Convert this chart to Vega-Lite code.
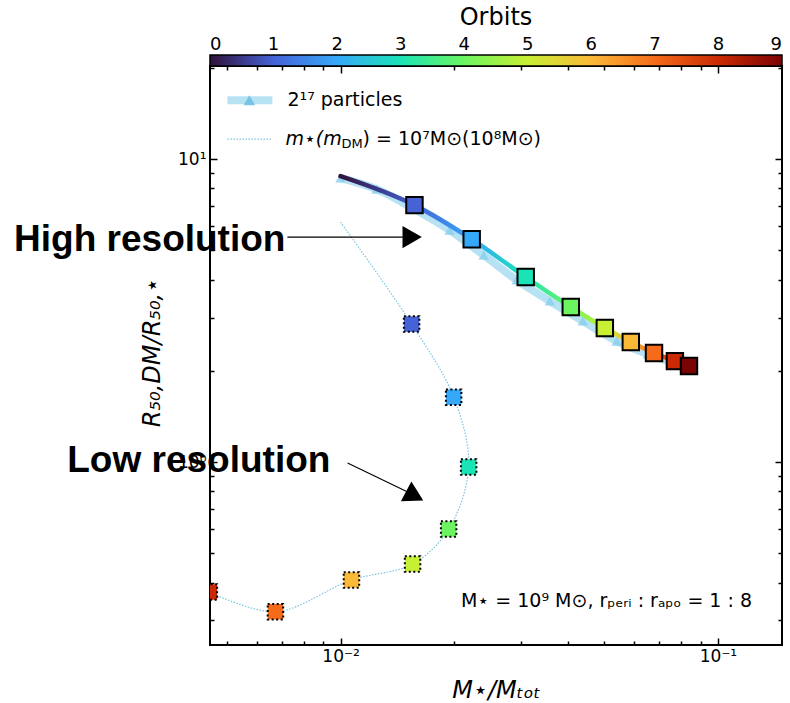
{
  "$schema": "https://vega.github.io/schema/vega-lite/v6.json",
  "width": 572,
  "height": 579,
  "autosize": {"type": "none"},
  "padding": {"left": 210, "top": 66, "right": 8, "bottom": 58},
  "background": "white",
  "config": {
    "font": "DejaVu Sans",
    "view": {"stroke": "black", "strokeWidth": 2},
    "axis": {"domain": false, "grid": false, "tickColor": "black", "tickWidth": 1.5, "labelColor": "black", "labelFontSize": 17, "titleColor": "black", "titleFontWeight": "normal", "labelFont": "DejaVu Sans", "titleFont": "DejaVu Sans"},
    "legend": {"labelFontSize": 18, "labelColor": "black", "labelFont": "DejaVu Sans", "titleFont": "DejaVu Sans"}
  },
  "datasets": {
    "hr_light": [
      {"x": 0.01, "y": 8.66},
      {"x": 0.01246, "y": 7.96},
      {"x": 0.01552, "y": 6.89},
      {"x": 0.01946, "y": 5.83},
      {"x": 0.02395, "y": 4.82},
      {"x": 0.0293, "y": 3.99},
      {"x": 0.03584, "y": 3.40},
      {"x": 0.04385, "y": 2.92},
      {"x": 0.05396, "y": 2.507},
      {"x": 0.06522, "y": 2.272},
      {"x": 0.07551, "y": 2.138},
      {"x": 0.0838, "y": 2.059}
    ],
    "hr": [
      {"orbit": 0, "x": 0.01, "y": 8.79},
      {"orbit": 1, "x": 0.0157, "y": 7.05},
      {"orbit": 2, "x": 0.02226, "y": 5.44},
      {"orbit": 3, "x": 0.03095, "y": 4.08},
      {"orbit": 4, "x": 0.04074, "y": 3.25},
      {"orbit": 5, "x": 0.05015, "y": 2.77},
      {"orbit": 6, "x": 0.05876, "y": 2.49},
      {"orbit": 7, "x": 0.0677, "y": 2.29},
      {"orbit": 8, "x": 0.0769, "y": 2.154},
      {"orbit": 9, "x": 0.0838, "y": 2.074}
    ],
    "lr": [
      {"orbit": 0, "x": 0.01, "y": 6.197},
      {"orbit": 1, "x": 0.01543, "y": 2.854},
      {"orbit": 2, "x": 0.01994, "y": 1.638},
      {"orbit": 3, "x": 0.02185, "y": 0.963},
      {"orbit": 4, "x": 0.01934, "y": 0.601},
      {"orbit": 5, "x": 0.01552, "y": 0.4607},
      {"orbit": 6, "x": 0.01069, "y": 0.408},
      {"orbit": 7, "x": 0.006723, "y": 0.3206},
      {"orbit": 8, "x": 0.004493, "y": 0.3724}
    ],
    "key_lines": [
      {"item": "hi", "x": 0.005016, "x2": 0.006598, "y": 15.65},
      {"item": "lo", "x": 0.005016, "x2": 0.006598, "y": 11.64}
    ],
    "key_marker": [{"x": 0.005735, "y": 15.65}],
    "key_text": [
      {"text": "2¹⁷ particles", "x": 0.007233, "y": 15.65},
      {"text": ") = 10⁷M⊙(10⁸M⊙)", "x": 0.01144, "y": 11.64}
    ],
    "key_italic": [{"text": "m⋆(m", "x": 0.007146, "y": 11.64}],
    "key_sub": [{"text": "DM", "x": 0.01006, "y": 11.64}],
    "info": [{"text": "M⋆ = 10⁹ M⊙, rₚₑᵣᵢ : rₐₚₒ = 1 : 8", "x": 0.1231, "y": 0.3477}],
    "notes": [
      {"text": "High resolution", "x": 0.001365, "y": 4.97},
      {"text": "Low resolution", "x": 0.001888, "y": 0.9269}
    ],
    "arrows": [
      {"x": 0.007233, "y": 5.529, "x2": 0.01461, "y2": 5.529},
      {"x": 0.01044, "y": 0.9924, "x2": 0.01497, "y2": 0.7991}
    ],
    "head_hi": [{"x": 0.01548, "y": 5.529}],
    "head_lo": [{"x": 0.01572, "y": 0.7723}]
  },
  "layer": [
    {
      "data": {"name": "hr_light"},
      "mark": {"type": "line", "stroke": "#87CEEB", "strokeWidth": 8, "opacity": 0.6, "interpolate": "monotone", "clip": true},
      "encoding": {
        "x": {"field": "x", "type": "quantitative", "scale": {"type": "log", "domain": [0.00451, 0.1478], "nice": false},
          "axis": {"orient": "bottom", "values": [0.01, 0.1], "labelExpr": "datum.value < 0.05 ? '10⁻²' : '10⁻¹'", "tickSize": -7, "labelPadding": 10, "title": "M⋆/Mₜₒₜ", "titleFontSize": 24, "titleFontStyle": "italic", "titleY": 52, "titleBaseline": "alphabetic"}},
        "y": {"field": "y", "type": "quantitative", "scale": {"type": "log", "domain": [0.2489, 20.3], "nice": false},
          "axis": {"orient": "left", "values": [1, 10], "labelExpr": "datum.value > 5 ? '10¹' : '10⁰'", "tickSize": -7, "labelPadding": 11, "title": "R₅₀,DM/R₅₀,⋆", "titleFontSize": 24, "titleFontStyle": "italic", "titleAngle": -90, "titleX": -51, "titleY": 286, "titleBaseline": "alphabetic", "titleAlign": "center"}}
      }
    },
    {
      "data": {"name": "hr_light"},
      "mark": {"type": "point", "shape": "triangle-up", "filled": true, "color": "#87CEEB", "opacity": 0.8, "size": 110, "clip": true},
      "encoding": {
        "x": {"field": "x", "type": "quantitative", "scale": {"type": "log", "domain": [0.00451, 0.1478], "nice": false},
          "axis": {"orient": "top", "values": [0.01, 0.1], "labels": false, "tickSize": -7, "title": null}},
        "y": {"field": "y", "type": "quantitative", "scale": {"type": "log", "domain": [0.2489, 20.3], "nice": false},
          "axis": {"orient": "right", "values": [1, 10], "labels": false, "tickSize": -7, "title": null}}
      }
    },
    {
      "data": {"name": "hr"},
      "mark": {"type": "line", "strokeWidth": 4.5, "interpolate": "monotone", "strokeCap": "round", "clip": true,
        "stroke": {"gradient": "linear", "x1": 0, "x2": 1, "y1": 0, "y2": 0, "stops": [
          {"offset": 0, "color": "#30123b"},
          {"offset": 0.213, "color": "#4562d6"},
          {"offset": 0.376, "color": "#36a8f9"},
          {"offset": 0.532, "color": "#1ae4b6"},
          {"offset": 0.661, "color": "#6cf560"},
          {"offset": 0.759, "color": "#c7ef34"},
          {"offset": 0.833, "color": "#fbb938"},
          {"offset": 0.899, "color": "#f56b1a"},
          {"offset": 0.96, "color": "#cb2a04"},
          {"offset": 1, "color": "#7a0403"}
        ]}},
      "encoding": {
        "x": {"field": "x", "type": "quantitative", "scale": {"type": "log", "domain": [0.00451, 0.1478], "nice": false},
          "axis": {"orient": "bottom", "values": [0.005, 0.006, 0.007, 0.008, 0.009, 0.02, 0.03, 0.04, 0.05, 0.06, 0.07, 0.08, 0.09], "labels": false, "tickSize": -4, "title": null}},
        "y": {"field": "y", "type": "quantitative", "scale": {"type": "log", "domain": [0.2489, 20.3], "nice": false},
          "axis": {"orient": "left", "values": [0.3, 0.4, 0.5, 0.6, 0.7, 0.8, 0.9, 2, 3, 4, 5, 6, 7, 8, 9, 20], "labels": false, "tickSize": -4, "title": null}}
      }
    },
    {
      "data": {"name": "lr"},
      "mark": {"type": "line", "stroke": "#7ec4e0", "strokeWidth": 1.2, "strokeDash": [1.5, 1.5], "interpolate": "catmull-rom", "clip": true},
      "encoding": {
        "x": {"field": "x", "type": "quantitative", "scale": {"type": "log", "domain": [0.00451, 0.1478], "nice": false},
          "axis": {"orient": "top", "values": [0.005, 0.006, 0.007, 0.008, 0.009, 0.02, 0.03, 0.04, 0.05, 0.06, 0.07, 0.08, 0.09], "labels": false, "tickSize": -4, "title": null}},
        "y": {"field": "y", "type": "quantitative", "scale": {"type": "log", "domain": [0.2489, 20.3], "nice": false},
          "axis": {"orient": "right", "values": [0.3, 0.4, 0.5, 0.6, 0.7, 0.8, 0.9, 2, 3, 4, 5, 6, 7, 8, 9, 20], "labels": false, "tickSize": -4, "title": null}},
        "order": {"field": "orbit", "type": "quantitative"}
      }
    },
    {
      "data": {"name": "hr"},
      "transform": [{"filter": "datum.orbit >= 1"}],
      "mark": {"type": "point", "shape": "square", "filled": true, "size": 270, "stroke": "black", "strokeWidth": 2, "opacity": 1, "clip": true},
      "encoding": {
        "x": {"field": "x", "type": "quantitative", "scale": {"type": "log", "domain": [0.00451, 0.1478], "nice": false}, "axis": null},
        "y": {"field": "y", "type": "quantitative", "scale": {"type": "log", "domain": [0.2489, 20.3], "nice": false}, "axis": null},
        "fill": {"field": "orbit", "type": "quantitative",
          "scale": {"domain": [0, 1, 2, 3, 4, 5, 6, 7, 8, 9], "range": ["#30123b", "#4562d6", "#36a8f9", "#1ae4b6", "#6cf560", "#c7ef34", "#fbb938", "#f56b1a", "#cb2a04", "#7a0403"], "interpolate": "rgb"},
          "legend": {"orient": "none", "legendX": 0, "legendY": -60, "direction": "horizontal", "gradientLength": 572, "gradientThickness": 11, "title": "Orbits", "titleFontSize": 24, "titleFontWeight": "normal", "titleAnchor": "middle", "titlePadding": 25, "titleColor": "black", "values": [0, 1, 2, 3, 4, 5, 6, 7, 8, 9], "labelFontSize": 18, "labelColor": "black", "labelAlign": "center", "labelBaseline": "top", "labelOffset": -30, "labelOverlap": false, "gradientStrokeColor": "black", "gradientStrokeWidth": 1.5, "format": "d"}}
      }
    },
    {
      "data": {"name": "lr"},
      "transform": [{"filter": "datum.orbit >= 1"}],
      "mark": {"type": "point", "shape": "square", "filled": true, "size": 240, "stroke": "black", "strokeWidth": 2, "strokeDash": [2, 2.5], "opacity": 1, "clip": true},
      "encoding": {
        "x": {"field": "x", "type": "quantitative", "scale": {"type": "log", "domain": [0.00451, 0.1478], "nice": false}, "axis": null},
        "y": {"field": "y", "type": "quantitative", "scale": {"type": "log", "domain": [0.2489, 20.3], "nice": false}, "axis": null},
        "fill": {"field": "orbit", "type": "quantitative",
          "scale": {"domain": [0, 1, 2, 3, 4, 5, 6, 7, 8, 9], "range": ["#30123b", "#4562d6", "#36a8f9", "#1ae4b6", "#6cf560", "#c7ef34", "#fbb938", "#f56b1a", "#cb2a04", "#7a0403"], "interpolate": "rgb"},
          "legend": {"orient": "none", "legendX": 0, "legendY": -60, "direction": "horizontal", "gradientLength": 572, "gradientThickness": 11, "title": "Orbits", "titleFontSize": 24, "titleFontWeight": "normal", "titleAnchor": "middle", "titlePadding": 25, "titleColor": "black", "values": [0, 1, 2, 3, 4, 5, 6, 7, 8, 9], "labelFontSize": 18, "labelColor": "black", "labelAlign": "center", "labelBaseline": "top", "labelOffset": -30, "labelOverlap": false, "gradientStrokeColor": "black", "gradientStrokeWidth": 1.5, "format": "d"}}
      }
    },
    {
      "data": {"name": "key_lines"},
      "transform": [{"filter": "datum.item == 'hi'"}],
      "mark": {"type": "rule", "stroke": "#87CEEB", "strokeWidth": 8, "opacity": 0.6},
      "encoding": {
        "x": {"field": "x", "type": "quantitative", "scale": {"type": "log", "domain": [0.00451, 0.1478], "nice": false}, "axis": null},
        "x2": {"field": "x2"},
        "y": {"field": "y", "type": "quantitative", "scale": {"type": "log", "domain": [0.2489, 20.3], "nice": false}, "axis": null}
      }
    },
    {
      "data": {"name": "key_lines"},
      "transform": [{"filter": "datum.item == 'lo'"}],
      "mark": {"type": "rule", "stroke": "#7ec4e0", "strokeWidth": 1.2, "strokeDash": [1.5, 1.5]},
      "encoding": {
        "x": {"field": "x", "type": "quantitative", "scale": {"type": "log", "domain": [0.00451, 0.1478], "nice": false}, "axis": null},
        "x2": {"field": "x2"},
        "y": {"field": "y", "type": "quantitative", "scale": {"type": "log", "domain": [0.2489, 20.3], "nice": false}, "axis": null}
      }
    },
    {
      "data": {"name": "key_marker"},
      "mark": {"type": "point", "shape": "triangle-up", "filled": true, "color": "#6fbfe0", "opacity": 0.9, "size": 130},
      "encoding": {
        "x": {"field": "x", "type": "quantitative", "scale": {"type": "log", "domain": [0.00451, 0.1478], "nice": false}, "axis": null},
        "y": {"field": "y", "type": "quantitative", "scale": {"type": "log", "domain": [0.2489, 20.3], "nice": false}, "axis": null}
      }
    },
    {
      "data": {"name": "key_text"},
      "mark": {"type": "text", "align": "left", "baseline": "middle", "fontSize": 19, "color": "black", "font": "DejaVu Sans"},
      "encoding": {
        "x": {"field": "x", "type": "quantitative", "scale": {"type": "log", "domain": [0.00451, 0.1478], "nice": false}, "axis": null},
        "y": {"field": "y", "type": "quantitative", "scale": {"type": "log", "domain": [0.2489, 20.3], "nice": false}, "axis": null},
        "text": {"field": "text"}
      }
    },
    {
      "data": {"name": "key_italic"},
      "mark": {"type": "text", "align": "left", "baseline": "middle", "fontSize": 19, "fontStyle": "italic", "color": "black", "font": "DejaVu Sans"},
      "encoding": {
        "x": {"field": "x", "type": "quantitative", "scale": {"type": "log", "domain": [0.00451, 0.1478], "nice": false}, "axis": null},
        "y": {"field": "y", "type": "quantitative", "scale": {"type": "log", "domain": [0.2489, 20.3], "nice": false}, "axis": null},
        "text": {"field": "text"}
      }
    },
    {
      "data": {"name": "key_sub"},
      "mark": {"type": "text", "align": "left", "baseline": "middle", "fontSize": 13, "dy": 5, "color": "black", "font": "DejaVu Sans"},
      "encoding": {
        "x": {"field": "x", "type": "quantitative", "scale": {"type": "log", "domain": [0.00451, 0.1478], "nice": false}, "axis": null},
        "y": {"field": "y", "type": "quantitative", "scale": {"type": "log", "domain": [0.2489, 20.3], "nice": false}, "axis": null},
        "text": {"field": "text"}
      }
    },
    {
      "data": {"name": "info"},
      "mark": {"type": "text", "align": "right", "baseline": "middle", "fontSize": 19, "color": "black", "font": "DejaVu Sans"},
      "encoding": {
        "x": {"field": "x", "type": "quantitative", "scale": {"type": "log", "domain": [0.00451, 0.1478], "nice": false}, "axis": null},
        "y": {"field": "y", "type": "quantitative", "scale": {"type": "log", "domain": [0.2489, 20.3], "nice": false}, "axis": null},
        "text": {"field": "text"}
      }
    },
    {
      "data": {"name": "arrows"},
      "mark": {"type": "rule", "color": "black", "strokeWidth": 1.1},
      "encoding": {
        "x": {"field": "x", "type": "quantitative", "scale": {"type": "log", "domain": [0.00451, 0.1478], "nice": false}, "axis": null},
        "y": {"field": "y", "type": "quantitative", "scale": {"type": "log", "domain": [0.2489, 20.3], "nice": false}, "axis": null},
        "x2": {"field": "x2"},
        "y2": {"field": "y2"}
      }
    },
    {
      "data": {"name": "head_hi"},
      "mark": {"type": "point", "shape": "triangle-right", "filled": true, "color": "black", "opacity": 1, "size": 500},
      "encoding": {
        "x": {"field": "x", "type": "quantitative", "scale": {"type": "log", "domain": [0.00451, 0.1478], "nice": false}, "axis": null},
        "y": {"field": "y", "type": "quantitative", "scale": {"type": "log", "domain": [0.2489, 20.3], "nice": false}, "axis": null}
      }
    },
    {
      "data": {"name": "head_lo"},
      "mark": {"type": "point", "shape": "triangle-right", "filled": true, "color": "black", "opacity": 1, "size": 500, "angle": 28},
      "encoding": {
        "x": {"field": "x", "type": "quantitative", "scale": {"type": "log", "domain": [0.00451, 0.1478], "nice": false}, "axis": null},
        "y": {"field": "y", "type": "quantitative", "scale": {"type": "log", "domain": [0.2489, 20.3], "nice": false}, "axis": null}
      }
    },
    {
      "data": {"name": "notes"},
      "mark": {"type": "text", "align": "left", "baseline": "alphabetic", "fontSize": 37, "fontWeight": "bold", "font": "Liberation Sans", "color": "black", "clip": false},
      "encoding": {
        "x": {"field": "x", "type": "quantitative", "scale": {"type": "log", "domain": [0.00451, 0.1478], "nice": false}, "axis": null},
        "y": {"field": "y", "type": "quantitative", "scale": {"type": "log", "domain": [0.2489, 20.3], "nice": false}, "axis": null},
        "text": {"field": "text"}
      }
    }
  ],
  "resolve": {"axis": {"x": "independent", "y": "independent"}}
}
